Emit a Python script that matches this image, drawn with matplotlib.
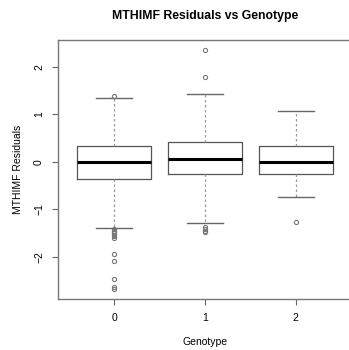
import matplotlib
matplotlib.use("Agg")
import matplotlib.pyplot as plt

plt.rcParams['font.family'] = ['Liberation Sans', 'DejaVu Sans']

genotypes = ['0', '1', '2']
medians = [0.0, 0.06, 0.0]
q1 = [-0.37, -0.27, -0.27]
q3 = [0.32, 0.41, 0.32]
whisk_lo = [-1.39, -1.30, -0.74]
whisk_hi = [1.33, 1.43, 1.07]
fliers = [
    [1.39, -1.42, -1.45, -1.48, -1.51, -1.54, -1.57, -1.60, -1.94, -2.10, -2.46, -2.64, -2.69],
    [2.35, 1.78, -1.37, -1.41, -1.45, -1.49],
    [-1.28],
]

stats = []
for i, g in enumerate(genotypes):
    stats.append(dict(label=g, med=medians[i], q1=q1[i], q3=q3[i],
                      whislo=whisk_lo[i], whishi=whisk_hi[i], fliers=fliers[i]))

fig = plt.figure(figsize=(3.49, 3.5), dpi=100)
ax = fig.add_axes([58 / 349, 1 - 299 / 350, 294 / 349, 259 / 350])

ax.bxp(stats, positions=range(len(genotypes)), widths=0.82,
       boxprops=dict(color='#555555', linewidth=0.9),
       medianprops=dict(color='black', linewidth=2.2),
       whiskerprops=dict(color='#999999', linewidth=0.9, linestyle=(0, (2, 2))),
       capprops=dict(color='#666666', linewidth=1.0),
       capwidths=0.4,
       flierprops=dict(marker='o', markersize=3.0, markerfacecolor='none',
                       markeredgecolor='#777777', markeredgewidth=0.8))

ax.set_xlim(-0.62, 2.62)
ax.set_ylim(-2.89, 2.56)
ax.set_xticks(range(len(genotypes)))
ax.set_xticklabels(genotypes)
ax.set_yticks([-2, -1, 0, 1, 2])
ax.set_yticklabels(['\u22122', '\u22121', '0', '1', '2'], rotation=90, va='center')
ax.tick_params(labelsize=7.5, length=4, width=0.8, color='#666666', pad=6)

for s in ax.spines.values():
    s.set_color('#777777')
    s.set_linewidth(1.0)

ax.set_title('MTHIMF Residuals vs Genotype', fontsize=8.8, fontweight='bold', pad=15, x=147 / 294)
ax.set_xlabel('Genotype', fontsize=7.5, labelpad=10)
ax.set_ylabel('MTHIMF Residuals', fontsize=7.5, labelpad=8)

fig.savefig('out.png', dpi=100)
